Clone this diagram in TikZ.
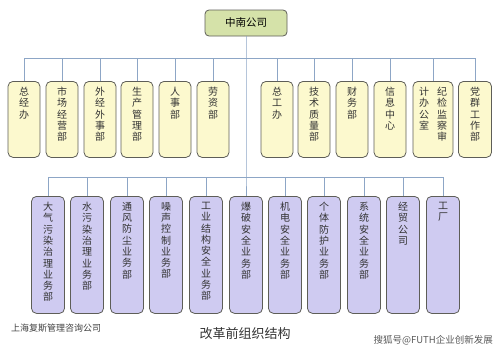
\documentclass[tikz,border=0pt]{standalone}
\usepackage{fontspec}
\setmainfont{Noto Sans CJK SC}
\usetikzlibrary{positioning}
\definecolor{headgreen}{HTML}{D5E2A9}
\definecolor{deptyellow}{HTML}{FCF9CE}
\definecolor{unitlilac}{HTML}{CFCBF1}
\definecolor{boxedge}{HTML}{5E5E58}
\definecolor{busline}{HTML}{8DA6C6}
\begin{document}
\begin{tikzpicture}[x=1pt,y=-1pt]
        % Box style definitions
        \tikzset{
            head/.style={draw=boxedge, fill=headgreen, line width=0.8pt, rounded corners=4pt, minimum width=82pt, minimum height=26pt, inner sep=0pt, font=\fontsize{10.5}{12}\selectfont},
            dept/.style={draw=boxedge, fill=deptyellow, line width=0.8pt, rounded corners=5pt, anchor=north, minimum width=32pt, minimum height=76pt, inner sep=0pt},
            unit/.style={draw=boxedge, fill=unitlilac, line width=0.8pt, rounded corners=5pt, anchor=north, minimum width=33pt, minimum height=117pt, inner sep=0pt},
            vtext/.style={anchor=north, inner sep=0pt, align=center, font=\fontsize{10}{11.3}\selectfont, text=black!80},
            link/.style={busline, line width=0.8pt}
        }
        \useasboundingbox (0,0) rectangle (500,351);

        % ==========================================
        % HEAD OFFICE
        % ==========================================
        \node[head] (zn) at (246,23) {中南公司};
        \coordinate (bus1) at (246,58);
        \coordinate (bus2) at (246,177);

        % ==========================================
        % UPPER ROW (functional departments)
        % ==========================================
        \node[dept] (zjb) at (24,81) {};
        \node[dept] (scjy) at (62,81) {};
        \node[dept] (wjws) at (100,81) {};
        \node[dept] (scgl) at (137,81) {};
        \node[dept] (rsb) at (175,81) {};
        \node[dept] (lzb) at (213,81) {};
        \node[dept] (zgb) at (277,81) {};
        \node[dept] (jszl) at (314,81) {};
        \node[dept] (cwb) at (352,81) {};
        \node[dept] (xxzx) at (390,81) {};
        \node[dept, minimum width=40pt] (jjjc) at (433,81) {};
        \node[dept, minimum width=33pt] (dqgz) at (475,81) {};

        \node[vtext] at ([yshift=-6pt]zjb.north) {总\\经\\办};
        \node[vtext] at ([yshift=-6pt]scjy.north) {市\\场\\经\\营\\部};
        \node[vtext] at ([yshift=-6pt]wjws.north) {外\\经\\外\\事\\部};
        \node[vtext] at ([yshift=-6pt]scgl.north) {生\\产\\管\\理\\部};
        \node[vtext] at ([yshift=-6pt]rsb.north) {人\\事\\部};
        \node[vtext] at ([yshift=-6pt]lzb.north) {劳\\资\\部};
        \node[vtext] at ([yshift=-6pt]zgb.north) {总\\工\\办};
        \node[vtext] at ([yshift=-6pt]jszl.north) {技\\术\\质\\量\\部};
        \node[vtext] at ([yshift=-6pt]cwb.north) {财\\务\\部};
        \node[vtext] at ([yshift=-6pt]xxzx.north) {信\\息\\中\\心};
        \node[vtext] at ([xshift=9pt,yshift=-6pt]jjjc.north) {纪\\检\\监\\察\\审};
        \node[vtext] at ([xshift=-9pt,yshift=-6pt]jjjc.north) {计\\办\\公\\室};
        \node[vtext] at ([yshift=-6pt]dqgz.north) {党\\群\\工\\作\\部};

        % ==========================================
        % LOWER ROW (business units)
        % ==========================================
        \node[unit] (dqwr) at (48,196) {};
        \node[unit] (swr) at (87,196) {};
        \node[unit] (tffc) at (127,196) {};
        \node[unit] (zskz) at (166,196) {};
        \node[unit] (gyjg) at (206,196) {};
        \node[unit] (bpaq) at (246,196) {};
        \node[unit] (jdaq) at (285,196) {};
        \node[unit] (gtfh) at (324,196) {};
        \node[unit] (xtaq) at (364,196) {};
        \node[unit] (jmgs) at (403,196) {};
        \node[unit] (gc) at (443,196) {};

        \node[vtext] at ([yshift=-6pt]dqwr.north) {大\\气\\污\\染\\治\\理\\业\\务\\部};
        \node[vtext] at ([yshift=-6pt]swr.north) {水\\污\\染\\治\\理\\业\\务\\部};
        \node[vtext] at ([yshift=-6pt]tffc.north) {通\\风\\防\\尘\\业\\务\\部};
        \node[vtext] at ([yshift=-6pt]zskz.north) {噪\\声\\控\\制\\业\\务\\部};
        \node[vtext] at ([yshift=-6pt]gyjg.north) {工\\业\\结\\构\\安\\全\\业\\务\\部};
        \node[vtext] at ([yshift=-6pt]bpaq.north) {爆\\破\\安\\全\\业\\务\\部};
        \node[vtext] at ([yshift=-6pt]jdaq.north) {机\\电\\安\\全\\业\\务\\部};
        \node[vtext] at ([yshift=-6pt]gtfh.north) {个\\体\\防\\护\\业\\务\\部};
        \node[vtext] at ([yshift=-6pt]xtaq.north) {系\\统\\安\\全\\业\\务\\部};
        \node[vtext] at ([yshift=-6pt]jmgs.north) {经\\贸\\公\\司};
        \node[vtext] at ([yshift=-6pt]gc.north) {工\\厂};

        % ==========================================
        % CONNECTORS
        % ==========================================
        \draw[link] (zn.south) -- (bus2) -- (bpaq.north);
        \draw[link] (zjb.north |- bus1) -- (dqgz.north |- bus1);
        \draw[link] (dqwr.north |- bus2) -- (gc.north |- bus2);
        \draw[link] (zjb.north) -- (zjb.north |- bus1);
        \draw[link] (scjy.north) -- (scjy.north |- bus1);
        \draw[link] (wjws.north) -- (wjws.north |- bus1);
        \draw[link] (scgl.north) -- (scgl.north |- bus1);
        \draw[link] (rsb.north) -- (rsb.north |- bus1);
        \draw[link] (lzb.north) -- (lzb.north |- bus1);
        \draw[link] (zgb.north) -- (zgb.north |- bus1);
        \draw[link] (jszl.north) -- (jszl.north |- bus1);
        \draw[link] (cwb.north) -- (cwb.north |- bus1);
        \draw[link] (xxzx.north) -- (xxzx.north |- bus1);
        \draw[link] (jjjc.north) -- (jjjc.north |- bus1);
        \draw[link] (dqgz.north) -- (dqgz.north |- bus1);
        \draw[link] (dqwr.north) -- (dqwr.north |- bus2);
        \draw[link] (swr.north) -- (swr.north |- bus2);
        \draw[link] (tffc.north) -- (tffc.north |- bus2);
        \draw[link] (zskz.north) -- (zskz.north |- bus2);
        \draw[link] (gyjg.north) -- (gyjg.north |- bus2);
        \draw[link] (jdaq.north) -- (jdaq.north |- bus2);
        \draw[link] (gtfh.north) -- (gtfh.north |- bus2);
        \draw[link] (xtaq.north) -- (xtaq.north |- bus2);
        \draw[link] (jmgs.north) -- (jmgs.north |- bus2);
        \draw[link] (gc.north) -- (gc.north |- bus2);

        % ==========================================
        % CAPTIONS
        % ==========================================
        \node[anchor=west, inner sep=0pt, font=\fontsize{9}{10}\selectfont, text=black!75] (firm) at (11,328) {上海复斯管理咨询公司};
        \node[inner sep=0pt, font=\fontsize{13}{14}\selectfont, text=black!80] (title) at (245,334) {改革前组织结构};
        \node[anchor=east, inner sep=0pt, font=\fontsize{9.5}{10}\selectfont, text=black!65] (mark) at (493,340) {搜狐号@FUTH企业创新发展};
\end{tikzpicture}
\end{document}
